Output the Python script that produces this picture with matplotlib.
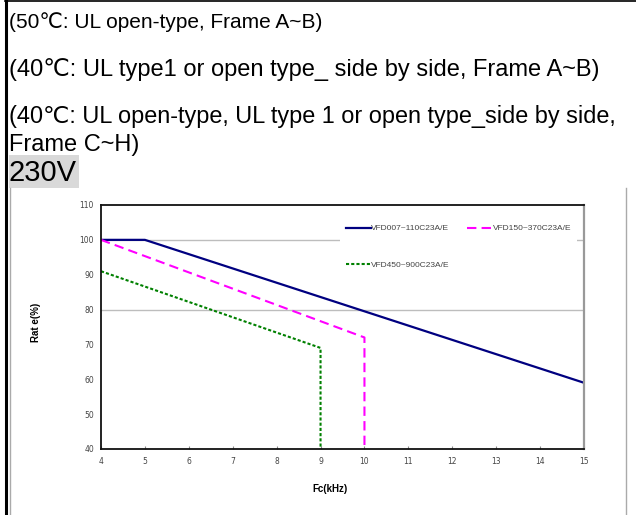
import matplotlib.pyplot as plt
from matplotlib.patches import Rectangle
from matplotlib.lines import Line2D

# derating data
freq_a = [4, 5, 15]
rate_a = [100, 100, 59]
freq_b = [4, 10, 10]
rate_b = [100, 72, 40]
freq_c = [4, 9, 9]
rate_c = [91, 69, 40]

labels = ['VFD007~110C23A/E', 'VFD150~370C23A/E', 'VFD450~900C23A/E']
x_ticks = list(range(4, 16))
y_ticks = list(range(40, 111, 10))
grid_levels = [80, 100]

notes = ['(50\u2103: UL open-type, Frame A~B)',
         '(40\u2103: UL type1 or open type_ side by side, Frame A~B)',
         '(40\u2103: UL open-type, UL type 1 or open type_side by side,',
         'Frame C~H)']

W, H = 636, 515
fig = plt.figure(figsize=(W / 100, H / 100), dpi=100)
fam = ['Liberation Sans', 'DejaVu Sans']

def fx(px):
    return px / W

def fy(py):
    return 1 - py / H

# page / table borders
fig.add_artist(Line2D([fx(5), fx(636)], [fy(0.5), fy(0.5)], color='black', lw=1.2))
fig.add_artist(Line2D([fx(6), fx(6)], [fy(0), fy(515)], color='black', lw=2.2))
fig.add_artist(Line2D([fx(9.5), fx(9.5)], [fy(188), fy(515)], color='#aaaaaa', lw=1))
fig.add_artist(Line2D([fx(626), fx(626)], [fy(188), fy(515)], color='#aaaaaa', lw=1))

# note lines (first one is set tighter in the original)
baselines = [28, 76, 123, 151]
sizes = [15, 17, 16.9, 17]
for txt, b, s in zip(notes, baselines, sizes):
    fig.text(fx(9), fy(b), txt, fontsize=s, family=fam, va='baseline', ha='left')

# 230V highlighted label
fig.add_artist(Rectangle((fx(9), fy(188)), fx(79) - fx(9), fy(155) - fy(188),
                         transform=fig.transFigure, color='#d9d9d9', lw=0))
fig.text(fx(9), fy(181), '230V', fontsize=21, family=fam, va='baseline', ha='left')

# chart
ax = fig.add_axes([fx(101), fy(449), fx(584) - fx(101), fy(205) - fy(449)])
for lvl in grid_levels:
    ax.axhline(lvl, color='#bdbdbd', lw=1, zorder=0)

la, = ax.plot(freq_a, rate_a, color='#000080', lw=1.6)
lb, = ax.plot(freq_b, rate_b, color='#ff00ff', lw=1.5, dashes=(4.5, 2.5))
lc, = ax.plot(freq_c, rate_c, color='#008000', lw=1.5, dashes=(1.5, 1))

ax.set_xlim(4, 15)
ax.set_ylim(40, 110)
ax.set_xticks(x_ticks)
ax.set_yticks(y_ticks)
ax.tick_params(axis='x', direction='in', length=2, pad=6, labelsize=5.5, labelcolor='#444444', color='#888888')
ax.tick_params(axis='y', direction='out', length=0, pad=5, labelsize=5.5, labelcolor='#444444')
for s in ['left', 'bottom', 'top']:
    ax.spines[s].set_color('#111111')
    ax.spines[s].set_linewidth(1.3)
ax.spines['right'].set_color('#999999')
ax.spines['right'].set_linewidth(1.6)

ax.set_xlabel('Fc(kHz)', fontsize=7, fontweight='bold', family=fam)
ax.xaxis.set_label_coords((330 - 101) / 483, (449 - 484) / 244)
ax.set_ylabel('Rat e(%)', fontsize=7, fontweight='bold', family=fam)
ax.yaxis.set_label_coords((41 - 101) / 483, (449 - 322) / 244)

leg = ax.legend([la, lc, lb], [labels[0], labels[2], labels[1]], ncol=2,
                loc='upper left', bbox_to_anchor=((336 - 101) / 483, (449 - 215) / 244),
                frameon=True, facecolor='white', edgecolor='none', framealpha=1,
                fancybox=False, handlelength=3.0, handletextpad=0.1, columnspacing=2.1,
                labelspacing=3.4, borderpad=0.65, prop={'family': fam, 'size': 6})
for t in leg.get_texts():
    t.set_color('#444444')

fig.savefig('out.png', dpi=100)
